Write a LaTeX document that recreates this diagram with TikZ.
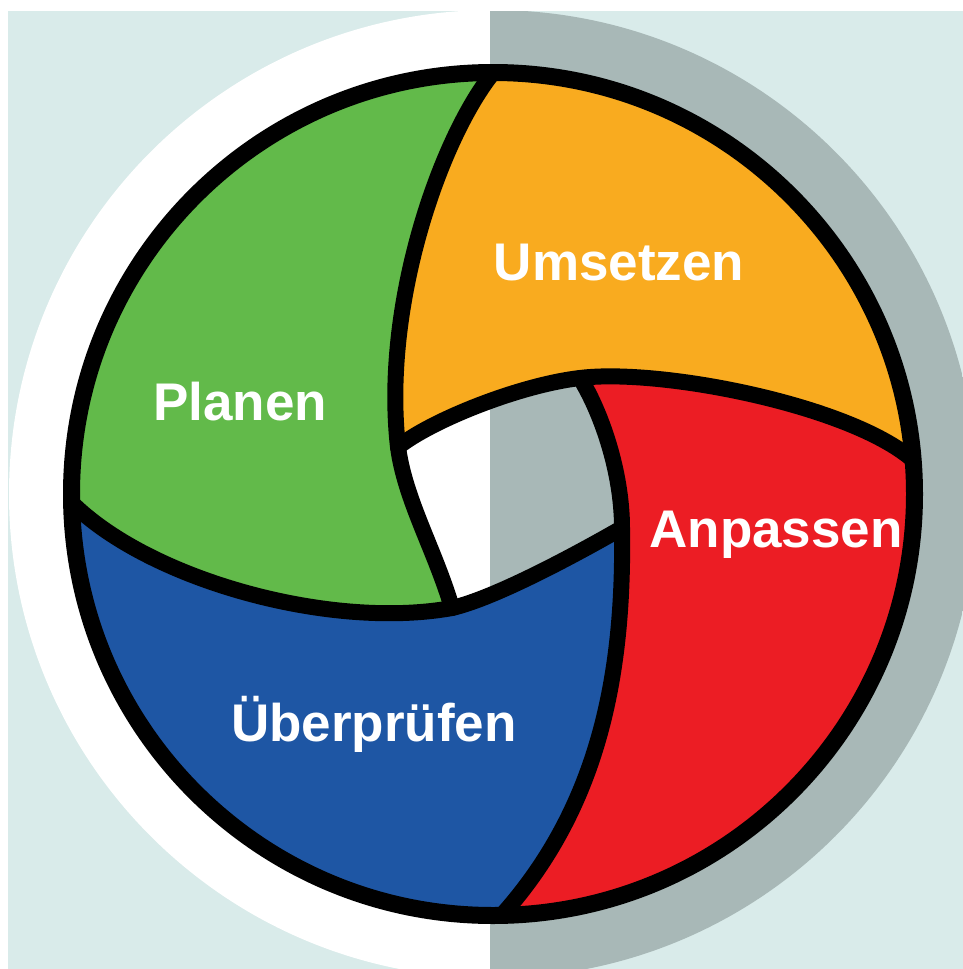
\documentclass[tikz,border=0pt]{standalone}
\usepackage{fontspec}
\setmainfont{Liberation Sans}
\definecolor{bgteal}{RGB}{217,235,234}
\definecolor{ringgray}{RGB}{168,184,183}
\definecolor{cgreen}{RGB}{98,186,74}
\definecolor{corange}{RGB}{249,171,31}
\definecolor{cred}{RGB}{236,29,36}
\definecolor{cblue}{RGB}{30,86,164}
\tikzset{
  edge/.style={draw=black, line width=16pt, line cap=round, line join=round},
  rim/.style={draw=black, line width=17pt},
  lbl/.style={anchor=base, text=white, inner sep=0pt, font=\fontsize{53}{53}\selectfont\bfseries}
}
\begin{document}
\begin{tikzpicture}[x=1pt,y=-1pt]
\useasboundingbox (0,0) rectangle (963,969);
% background
\fill[bgteal] (8,11) rectangle (963,969);
\begin{scope}
  \clip (8,11) rectangle (963,969);
  \clip (493,494) circle[radius=484pt];
  \fill[white] (0,0) rectangle (490,1000);
  \fill[ringgray] (490,0) rectangle (1000,1000);
\end{scope}
% key points
\coordinate (T) at (492,74);
\coordinate (Q1) at (398,447);
\coordinate (Hbl) at (452,608);
\coordinate (Htr) at (580,378);
\coordinate (Hbr) at (622,528);
\coordinate (R) at (913,460);
\coordinate (Bot) at (502,915);
\coordinate (L) at (72,503);
% coloured sectors
\begin{scope}
  \clip (493,494) circle[radius=421.5pt];
  \fill[cgreen] (492,-50) -- (T) .. controls (440,140) and (382,305) .. (Q1)
     .. controls (405,500) and (435,550) .. (Hbl)
     .. controls (330,630) and (150,580) .. (L) -- (-50,503) -- (-50,-50) -- cycle;
  \fill[corange] (492,-50) -- (T) .. controls (440,140) and (382,305) .. (Q1)
     .. controls (432,420) and (520,385) .. (Htr)
     .. controls (660,368) and (850,405) .. (R) -- (1050,460) -- (1050,-50) -- cycle;
  \fill[cred] (R) .. controls (850,405) and (660,368) .. (Htr)
     .. controls (600,410) and (622,470) .. (Hbr)
     .. controls (624,660) and (605,800) .. (Bot) -- (502,1050) -- (1050,1050) -- (1050,460) -- cycle;
  \fill[cblue] (L) .. controls (150,580) and (330,630) .. (Hbl)
     .. controls (495,598) and (575,555) .. (Hbr)
     .. controls (624,660) and (605,800) .. (Bot) -- (502,1050) -- (-50,1050) -- (-50,503) -- cycle;
\end{scope}
% dividing strokes
\draw[edge] (T) .. controls (440,140) and (382,305) .. (Q1)
     .. controls (405,500) and (435,550) .. (Hbl);
\draw[edge] (Q1) .. controls (432,420) and (520,385) .. (Htr)
     .. controls (660,368) and (850,405) .. (R);
\draw[edge] (Htr) .. controls (600,410) and (622,470) .. (Hbr)
     .. controls (624,660) and (605,800) .. (Bot);
\draw[edge] (L) .. controls (150,580) and (330,630) .. (Hbl)
     .. controls (495,598) and (575,555) .. (Hbr);
% outer rim
\draw[rim] (493,494) circle[radius=421.5pt];
% labels
\node[lbl] (umsetzen) at (619,280) {Umsetzen};
\node[lbl] (planen) at (240,420) {Planen};
\node[lbl] (anpassen) at (776,547) {Anpassen};
\node[lbl] (ueberpruefen) at (374,741) {Überprüfen};
\end{tikzpicture}
\end{document}
